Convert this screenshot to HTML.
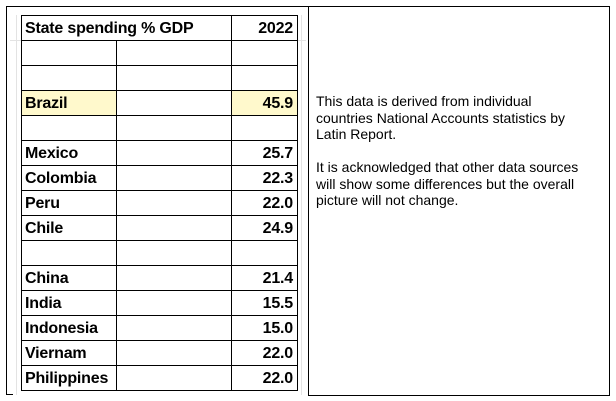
<!DOCTYPE html>
<html><head><style>
body{margin:0;width:616px;height:401px;background:#fff;position:relative;overflow:hidden;font-family:"Liberation Sans",sans-serif}
.a{position:absolute}
.g{position:absolute;background:#e3e3e3}
.b{position:absolute;background:#000}
.t{position:absolute;font-weight:bold;font-size:16px;line-height:25px;color:#000;letter-spacing:-0.2px}
.r{left:231px;width:62px;text-align:right}
</style></head><body>
<!-- gridlines -->
<div class="g" style="left:16px;top:15px;width:1px;height:380px"></div>
<div class="g" style="left:301px;top:15px;width:1px;height:380px"></div>
<div class="g" style="left:10px;top:40px;width:296px;height:1px"></div>
<!-- frame -->
<div class="b" style="left:6px;top:6px;width:303px;height:1px"></div>
<div class="b" style="left:6px;top:6px;width:1px;height:389px"></div>
<div class="b" style="left:6px;top:394px;width:7px;height:1px"></div>
<!-- highlight -->
<div class="a" style="left:21px;top:90px;width:95px;height:25px;background:#fff9cc"></div>
<div class="a" style="left:231px;top:90px;width:66px;height:25px;background:#fff9cc"></div>
<!-- table lines -->
<div class="b" style="left:21px;top:15px;width:1px;height:376px"></div>
<div class="b" style="left:116px;top:40px;width:1px;height:351px"></div>
<div class="b" style="left:231px;top:15px;width:1px;height:376px"></div>
<div class="b" style="left:297px;top:15px;width:1px;height:376px"></div>
<div class="b" style="left:21px;top:15px;width:277px;height:1px"></div>
<div class="b" style="left:21px;top:40px;width:277px;height:1px"></div>
<div class="b" style="left:21px;top:65px;width:277px;height:1px"></div>
<div class="b" style="left:21px;top:90px;width:277px;height:1px"></div>
<div class="b" style="left:21px;top:115px;width:277px;height:1px"></div>
<div class="b" style="left:21px;top:140px;width:277px;height:1px"></div>
<div class="b" style="left:21px;top:165px;width:277px;height:1px"></div>
<div class="b" style="left:21px;top:190px;width:277px;height:1px"></div>
<div class="b" style="left:21px;top:215px;width:277px;height:1px"></div>
<div class="b" style="left:21px;top:240px;width:277px;height:1px"></div>
<div class="b" style="left:21px;top:265px;width:277px;height:1px"></div>
<div class="b" style="left:21px;top:290px;width:277px;height:1px"></div>
<div class="b" style="left:21px;top:315px;width:277px;height:1px"></div>
<div class="b" style="left:21px;top:340px;width:277px;height:1px"></div>
<div class="b" style="left:21px;top:365px;width:277px;height:1px"></div>
<div class="b" style="left:21px;top:390px;width:277px;height:1px"></div>
<!-- text -->
<div class="t" style="left:25px;top:16px">State spending % GDP</div>
<div class="t r" style="top:16px">2022</div>
<div class="t" style="left:25px;top:91px">Brazil</div><div class="t r" style="top:91px">45.9</div>
<div class="t" style="left:25px;top:141px">Mexico</div><div class="t r" style="top:141px">25.7</div>
<div class="t" style="left:25px;top:166px">Colombia</div><div class="t r" style="top:166px">22.3</div>
<div class="t" style="left:25px;top:191px">Peru</div><div class="t r" style="top:191px">22.0</div>
<div class="t" style="left:25px;top:216px">Chile</div><div class="t r" style="top:216px">24.9</div>
<div class="t" style="left:25px;top:266px">China</div><div class="t r" style="top:266px">21.4</div>
<div class="t" style="left:25px;top:291px">India</div><div class="t r" style="top:291px">15.5</div>
<div class="t" style="left:25px;top:316px">Indonesia</div><div class="t r" style="top:316px">15.0</div>
<div class="t" style="left:25px;top:341px">Viernam</div><div class="t r" style="top:341px">22.0</div>
<div class="t" style="left:25px;top:366px">Philippines</div><div class="t r" style="top:366px">22.0</div>
<!-- right box -->
<div class="a" style="left:308px;top:6px;width:300px;height:388px;border:1px solid #000"></div>
<div class="a" style="left:316px;top:93px;width:290px;font-size:14px;line-height:16.5px;color:#000">This data is derived from individual<br>countries National Accounts statistics by<br>Latin Report.<br><br>It is acknowledged that other data sources<br>will show some differences but the overall<br>picture will not change.</div>
</body></html>
